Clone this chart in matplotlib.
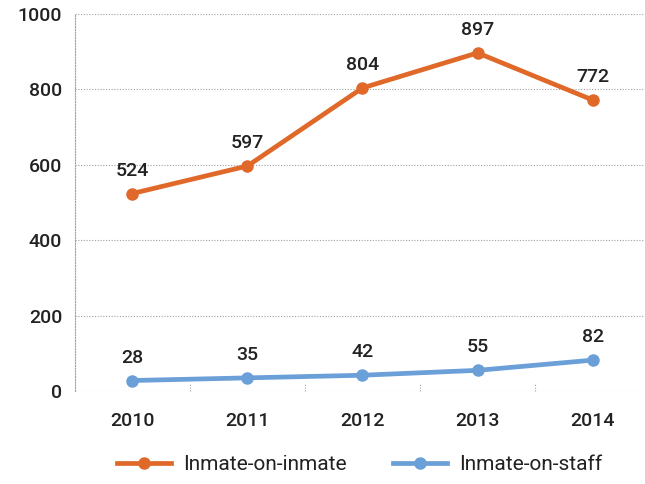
import matplotlib

matplotlib.use("Agg")
import matplotlib.pyplot as plt
from matplotlib.transforms import blended_transform_factory

plt.rcParams["font.family"] = ["Roboto", "DejaVu Sans"]

years = ["2010", "2011", "2012", "2013", "2014"]
inmate_on_inmate = [524, 597, 804, 897, 772]
inmate_on_staff = [28, 35, 42, 55, 82]

orange = "#e0692a"
blue = "#6a9fd8"
grid_color = "#a0a0a0"
text_color = "#222222"

fig = plt.figure(figsize=(6.45, 4.84), dpi=100)
ax = fig.add_axes([0.116, 0.192, 0.892, 0.779])

x = list(range(len(years)))
ax.plot(x, inmate_on_inmate, color=orange, lw=3.4, marker="o", ms=8,
        label="Inmate-on-inmate", zorder=3)
ax.plot(x, inmate_on_staff, color=blue, lw=3.4, marker="o", ms=8,
        label="Inmate-on-staff", zorder=3)

for series in (inmate_on_inmate, inmate_on_staff):
    for xi, v in zip(x, series):
        ax.annotate(str(v), (xi, v), xytext=(0, 10), textcoords="offset points",
                    ha="center", va="bottom", fontsize=14, color=text_color,
                    fontweight="medium")

ax.set_xlim(-0.5, len(years) - 0.5)
ax.set_ylim(0, 1000)
ax.set_yticks(range(0, 1001, 200))
ax.set_xticks(x)
ax.set_xticklabels(years)
ax.tick_params(axis="both", length=0, labelsize=14, colors=text_color)
ax.tick_params(axis="x", pad=15)
ax.tick_params(axis="y", pad=9)
for lab in ax.get_yticklabels() + ax.get_xticklabels():
    lab.set_fontweight("medium")

for s in ["top", "right", "bottom"]:
    ax.spines[s].set_visible(False)
ax.spines["left"].set_linestyle((0, (1, 1.5)))
ax.spines["left"].set_color(grid_color)
ax.spines["left"].set_linewidth(0.8)

ax.yaxis.grid(True, linestyle=(0, (1, 1.5)), color=grid_color, lw=0.8)
ax.set_axisbelow(True)

# small dotted separators between categories
trans = blended_transform_factory(ax.transData, ax.transAxes)
for b in [i + 0.5 for i in range(len(years) - 1)]:
    ax.plot([b, b], [0, 0.022], transform=trans, color=grid_color,
            lw=0.8, linestyle=(0, (1, 1.5)), clip_on=False)

ax.legend(loc="upper center", bbox_to_anchor=(0.495, -0.148), ncol=2,
          frameon=False, fontsize=15, handlelength=2.6, columnspacing=2.2,
          handletextpad=0.6, labelcolor=text_color, borderaxespad=0)

fig.savefig("out.png", dpi=100)
